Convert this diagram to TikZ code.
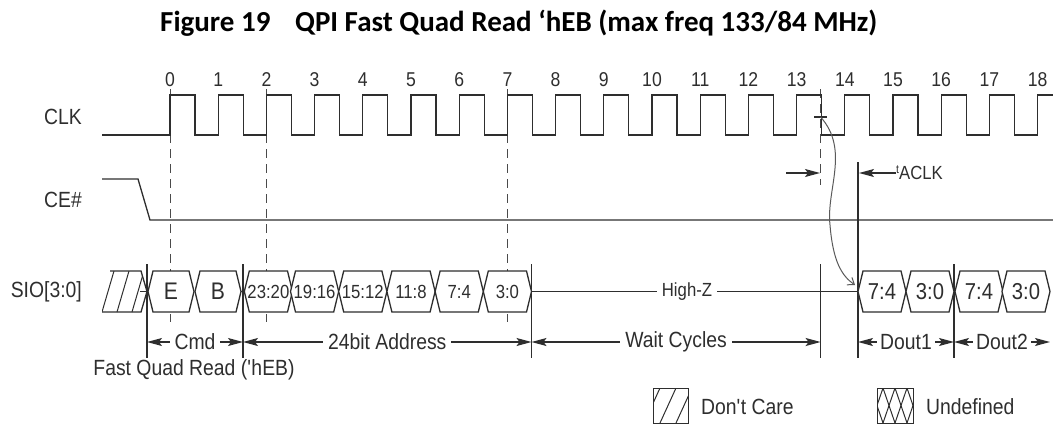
\documentclass[tikz,border=0pt]{standalone}
\usepackage{fontspec}
\newfontfamily\narrowsans[FakeStretch=0.88]{Liberation Sans}
\newfontfamily\titlesans{Carlito}
\usetikzlibrary{arrows.meta}
\definecolor{ink}{HTML}{2E2E2E}
\definecolor{guide}{HTML}{4A4A4A}
\definecolor{curve}{HTML}{5A5A5A}
\tikzset{
  wave/.style={draw=ink, line width=1.3pt},
  cell/.style={wave, fill=white},
  hatch/.style={draw=ink, line width=1pt},
  bound/.style={draw=ink, line width=1.2pt},
  guideline/.style={draw=guide, line width=1pt, dash pattern=on 9pt off 6pt},
  sig/.style={font=\narrowsans\fontsize{22}{26}\selectfont, text=ink, inner sep=0pt},
  cyctext/.style={sig, font=\narrowsans\fontsize{20}{24}\selectfont},
  cmdtext/.style={sig, font=\narrowsans\fontsize{24}{28}\selectfont},
  addrtext/.style={sig, font=\narrowsans\fontsize{19}{22}\selectfont},
  datatext/.style={sig, font=\narrowsans\fontsize{23}{26}\selectfont},
  smalltext/.style={sig, font=\narrowsans\fontsize{19}{22}\selectfont},
  titletext/.style={font=\titlesans\bfseries\fontsize{29}{33}\selectfont, text=black, inner sep=0pt},
  cut/.style={fill=white, inner xsep=5pt, inner ysep=1pt},
  meas/.style={{Stealth[length=15pt,width=8pt,inset=3pt]}-{Stealth[length=15pt,width=8pt,inset=3pt]}, draw=ink, line width=1.2pt},
  pointer/.style={-{Stealth[length=15pt,width=8pt,inset=3pt]}, draw=ink, line width=1.2pt},
  sweep/.style={-{Straight Barb[length=6pt,width=9pt]}, draw=curve, line width=1pt}
}

\begin{document}
\begin{tikzpicture}[x=1pt,y=-1pt]
\useasboundingbox (0,0) rectangle (1053,426);

\node[titletext, anchor=base west] (title) at (160,31) {Figure 19\hspace{0.85em}QPI Fast Quad Read ‘hEB (max freq 133/84 MHz)};

\foreach \k in {0,...,18} {
  \node[cyctext] (cyc\k) at ({170+48.2*\k},80) {\k};
}

\node[sig, anchor=east] (clk) at (82,117) {CLK};
\node[sig, anchor=east] (ce) at (82,200) {CE\#};
\node[sig, anchor=east] (sio) at (82,292) {SIO[3:0]};

\foreach \k in {0,2,7} {
  \draw[guideline] ({170+48.2*\k},89) -- ({170+48.2*\k},322);
}
\draw[guideline] (820.6,89) -- (820.6,185);

\draw[wave] (102,135) -- (170,135)
  \foreach \k in {0,...,17} {-- ++(0,-40) -- ++(25,0) -- ++(0,40) -- ++(23.2,0)}
  -- ++(0,-40) -- (1053,95);
\draw[wave] (814,117) -- (827,117);

\draw[wave] (102,179) -- (138,179) -- (150,220) -- (1053,220);

\begin{scope}
  \clip (102,271) -- (141,271) -- (147,291.5) -- (141,312) -- (102,312) -- cycle;
  \foreach \x in {102,117,132} {
    \draw[hatch] (\x,312) -- (\x+12,271);
  }
\end{scope}
\draw[wave] (110,271) -- (141,271) -- (147,291.5) -- (141,312) -- (102,312);

\draw[wave] (531.5,291.5) -- (858,291.5);
\node[smalltext, cut] (highz) at (687,291.5) {High-Z};

\foreach \x in {147,243,531.5,820.6,954} {
  \draw[bound] (\x,264) -- (\x,358);
}
\draw[bound] (858,162) -- (858,358);
\foreach \x in {147,243,954} {
  \draw[wave] (\x-7,291.5) -- (\x+7,291.5);
}

\foreach \a/\t [count=\i] in {148/E,195/B} {
  \draw[cell] (\a,291.5) -- (\a+5,271) -- (\a+41,271) -- (\a+46,291.5) -- (\a+41,312) -- (\a+5,312) -- cycle;
  \node[cmdtext] (cmd\i) at (\a+23,291.5) {\t};
}
\foreach \a/\t [count=\i] in {244.3/23:20,290.5/19:16,338.7/15:12,386.9/11:8,435.1/7:4,483.3/3:0} {
  \draw[cell] (\a,291.5) -- (\a+5,271) -- (\a+43.2,271) -- (\a+48.2,291.5) -- (\a+43.2,312) -- (\a+5,312) -- cycle;
  \node[addrtext] (addr\i) at (\a+24.1,291.5) {\t};
}
\foreach \a/\t [count=\i] in {858/7:4,906/3:0,955/7:4,1002/3:0} {
  \draw[cell] (\a,291.5) -- (\a+5,271) -- (\a+43,271) -- (\a+48,291.5) -- (\a+43,312) -- (\a+5,312) -- cycle;
  \node[datatext] (dout\i) at (\a+24,291.5) {\t};
}

\draw[pointer] (786,173) -- (820,173);
\draw[pointer] (896,173) -- (859,173);
\node[smalltext, anchor=west] (taclk) at (896,173) {\raisebox{6pt}{\fontsize{12}{12}\selectfont t}ACLK};

\draw[sweep] (820.6,117) .. controls (850,150) and (826,190) .. (830,225) .. controls (833,262) and (842,276) .. (855,285);

\draw[meas] (147,342) -- node[sig, cut] (cmdspan) {Cmd} (243,342);
\draw[meas] (243,342) -- node[sig, cut] (addrspan) {24bit Address} (531.5,342);
\draw[meas] (531.5,342) -- node[sig, cut] (waitspan) {Wait Cycles} (820.6,342);
\draw[meas] (858,342) -- node[sig, cut, inner xsep=3pt] (dout1span) {Dout1} (954,342);
\draw[meas] (954,342) -- node[sig, cut, inner xsep=3pt] (dout2span) {Dout2} (1050,342);

\node[sig] (fqr) at (194,370) {Fast Quad Read (\textquotesingle hEB)};

\begin{scope}
  \clip (653,388) rectangle (688,423);
  \foreach \x in {644,660,676} {
    \draw[hatch] (\x,423) -- (\x+16,388);
  }
\end{scope}
\draw[hatch] (653,388) rectangle (688,423);
\node[sig, anchor=west] (dontcare) at (701,407) {Don\textquotesingle t Care};

\begin{scope}
  \clip (877,388) rectangle (913,423);
  \foreach \x in {871,883,895,907} {
    \draw[hatch] (\x,388) -- (\x+12,423);
    \draw[hatch] (\x,423) -- (\x+12,388);
  }
\end{scope}
\draw[hatch] (877,388) rectangle (913,423);
\node[sig, anchor=west] (undef) at (926,407) {Undefined};

\end{tikzpicture}
\end{document}
